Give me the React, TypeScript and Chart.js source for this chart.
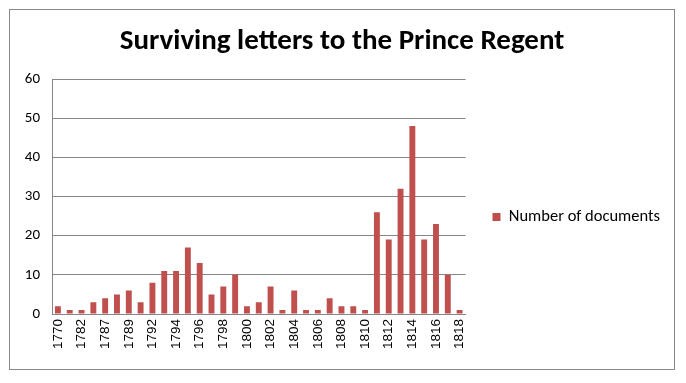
import React, { useEffect, useRef } from "react";
import { Chart, registerables } from "chart.js";

Chart.register(...registerables);

const categories = [
  "1770", "1779", "1782", "1785", "1787", "1788", "1789", "1790",
  "1792", "1793", "1794", "1795", "1796", "1797", "1798", "1799",
  "1800", "1801", "1802", "1803", "1804", "1805", "1806", "1807",
  "1808", "1809", "1810", "1811", "1812", "1813", "1814", "1815",
  "1816", "1817", "1818",
];

const documents = [
  2, 1, 1, 3, 4, 5, 6, 3,
  8, 11, 11, 17, 13, 5, 7, 10,
  2, 3, 7, 1, 6, 1, 1, 4,
  2, 2, 1, 26, 19, 32, 48, 19,
  23, 10, 1,
];

const yTicks = [0, 10, 20, 30, 40, 50, 60];

const seriesLabel = "Number of documents";
const titleText = "Surviving letters to the Prince Regent";

const CAL = "Carlito, Lato, 'Open Sans', sans-serif";
const GRID = "#868686";

export default function App() {
  const ref = useRef<HTMLCanvasElement | null>(null);

  useEffect(() => {
    if (!ref.current) return;
    const chart = new Chart(ref.current, {
      type: "bar",
      data: {
        labels: categories,
        datasets: [
          {
            label: seriesLabel,
            data: documents,
            backgroundColor: "#C0504D",
            borderWidth: 0,
            categoryPercentage: 1,
            barPercentage: 0.5,
          },
        ],
      },
      options: {
        animation: false,
        responsive: false,
        maintainAspectRatio: false,
        layout: { padding: { left: 4, right: 5, top: 0, bottom: 6 } },
        plugins: {
          title: {
            display: true,
            text: titleText,
            color: "#000",
            font: { family: CAL, size: 29, weight: "bold" },
            padding: { top: 14.6, bottom: 19.6 },
          },
          legend: {
            display: true,
            position: "right",
            maxWidth: 210,
            title: {
              display: true,
              text: "",
              font: { size: 10 },
              padding: { top: 48, bottom: 0 },
            },
            labels: {
              boxWidth: 8,
              boxHeight: 8,
              padding: 27,
              color: "#000",
              font: { family: CAL, size: 16.5 },
            },
          },
          tooltip: { enabled: false },
        },
        scales: {
          x: {
            grid: { display: false, drawTicks: false },
            border: { display: true, color: GRID, width: 1 },
            afterFit: (s: any) => {
              s.height = 50;
            },
            ticks: {
              autoSkip: false,
              maxRotation: 90,
              minRotation: 90,
              padding: 5,
              color: "#000",
              font: { family: "'Liberation Sans', Arial, sans-serif", size: 13.5 },
              callback: (_v: any, i: number) => (i % 2 === 0 ? categories[i] : ""),
            },
          },
          y: {
            min: yTicks[0],
            max: yTicks[yTicks.length - 1],
            afterFit: (s: any) => {
              s.width = 38;
            },
            afterBuildTicks: (s: any) => {
              s.ticks = yTicks.map((v) => ({ value: v }));
            },
            grid: { color: GRID, lineWidth: 1, drawTicks: false },
            border: { display: true, color: GRID, width: 1 },
            ticks: {
              padding: 12,
              color: "#000",
              font: { family: CAL, size: 15 },
            },
          },
        },
      },
    });
    return () => chart.destroy();
  }, []);

  return (
    <div style={{ position: "absolute", left: 0, top: 0, width: 686, height: 383, background: "#fff" }}>
      <div
        style={{
          position: "absolute",
          left: 9,
          top: 9,
          width: 666,
          height: 361,
          border: "1px solid #888",
          boxSizing: "border-box",
        }}
      />
      <canvas
        ref={ref}
        width={665}
        height={360}
        style={{ position: "absolute", left: 10, top: 10, width: 665, height: 360 }}
      />
    </div>
  );
}
